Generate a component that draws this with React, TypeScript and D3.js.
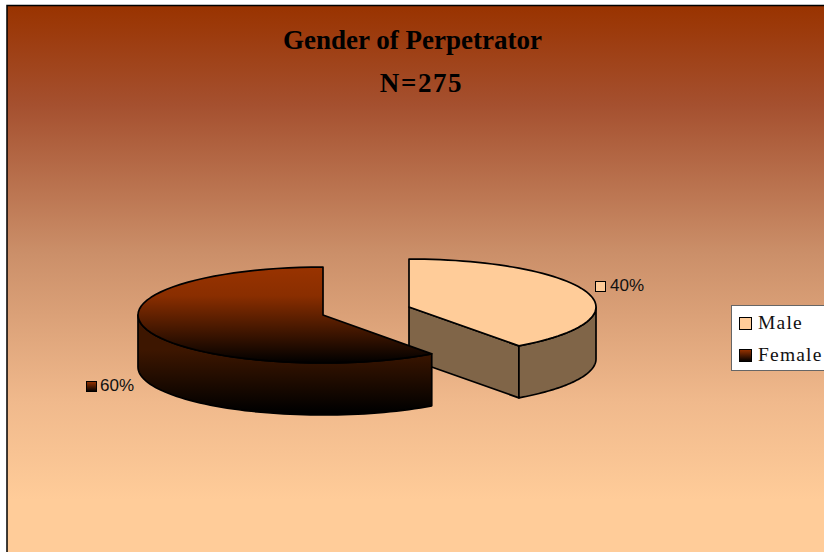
import React from "react";
import * as d3 from "d3";

const categories = ["Male", "Female"];
const values = [40, 60];
const labels = ["40%", "60%"];
const titleLines = ["Gender of Perpetrator", "N=275"];

const W = 824, H = 552;
const pieAngles = d3.pie<number>().sort(null).startAngle(0).endAngle(2 * Math.PI)(values);
const geom = [
  { cx: 409, cy: 307, rx: 187, ry: 48, depth: 52 },
  { cx: 323, cy: 315, rx: 185, ry: 48, depth: 52 },
];

function pt(g: any, a: number, dy = 0): [number, number] {
  return [g.cx + g.rx * Math.sin(a), g.cy - g.ry * Math.cos(a) + dy];
}
const line = d3.line();
function arcPts(g: any, a0: number, a1: number, dy = 0) {
  return d3.range(0, 61).map((i) => pt(g, a0 + ((a1 - a0) * i) / 60, dy));
}
const stroke = "#000";

export default function App() {
  const [mA, fA] = pieAngles;
  const m = geom[0], f = geom[1];
  const mTop = line([[m.cx, m.cy], ...arcPts(m, mA.startAngle, mA.endAngle)])! + "Z";
  const mOuter = line([...arcPts(m, Math.PI / 2, mA.endAngle), ...arcPts(m, mA.endAngle, Math.PI / 2, m.depth).slice()])! + "Z";
  const mEnd = pt(m, mA.endAngle);
  const mCut = line([[m.cx, m.cy], mEnd, [mEnd[0], mEnd[1] + m.depth], [m.cx, m.cy + m.depth]])! + "Z";
  const fTop = line([[f.cx, f.cy], ...arcPts(f, fA.startAngle, fA.endAngle)])! + "Z";
  const fOuter = line([...arcPts(f, fA.startAngle, 1.5 * Math.PI), ...arcPts(f, 1.5 * Math.PI, fA.startAngle, f.depth)])! + "Z";
  return (
    <svg width={W} height={H} viewBox={`0 0 ${W} ${H}`} style={{ position: "absolute", left: 0, top: 0 }}>
      <defs>
        <linearGradient id="bg" gradientUnits="userSpaceOnUse" x1="0" y1="6" x2="0" y2="500">
          <stop offset="0" stopColor="#993300" />
          <stop offset="0.2" stopColor="#a5502f" />
          <stop offset="0.5" stopColor="#cb8f69" />
          <stop offset="0.8" stopColor="#f0b98c" />
          <stop offset="1" stopColor="#FFCC99" />
        </linearGradient>
        <linearGradient id="fTop" gradientUnits="userSpaceOnUse" x1="0" y1="267" x2="0" y2="363">
          <stop offset="0" stopColor="#993300" />
          <stop offset="0.3" stopColor="#8a2e00" />
          <stop offset="1" stopColor="#000" />
        </linearGradient>
        <linearGradient id="fSide" gradientUnits="userSpaceOnUse" x1="0" y1="350" x2="0" y2="412">
          <stop offset="0" stopColor="#3d1600" />
          <stop offset="1" stopColor="#000" />
        </linearGradient>
        <linearGradient id="sw" x1="0" y1="0" x2="0" y2="1">
          <stop offset="0" stopColor="#993300" />
          <stop offset="1" stopColor="#000" />
        </linearGradient>
      </defs>
      <rect width={W} height={H} fill="#fff" />
      <rect x="7" y="5.5" width={W + 20} height={H + 20} fill="url(#bg)" stroke="#000" strokeWidth="1.5" />
      <text x={412.5} y={49} textAnchor="middle" fontFamily="'Liberation Serif'" fontWeight="bold" fontSize={27} fill="#000">{titleLines[0]}</text>
      <text x={421.5} y={92} textAnchor="middle" fontFamily="'Liberation Serif'" fontWeight="bold" fontSize={27} letterSpacing="1.6" fill="#000">{titleLines[1]}</text>
      <g stroke={stroke} strokeWidth="1.7" strokeLinejoin="round">
        <path d={mCut} fill="#806548" />
        <path d={mOuter} fill="#806548" />
        <path d={mTop} fill="#FFCC99" />
        <path d={fOuter} fill="url(#fSide)" />
        <path d={fTop} fill="url(#fTop)" />
      </g>
      <rect x="595.5" y="281.5" width="10" height="10" fill="#FFCC99" stroke="#000" />
      <text x={610} y={291} fontFamily="'Liberation Sans'" fontSize={17} fill="#111">{labels[0]}</text>
      <rect x="86.5" y="381.5" width="10" height="10" fill="url(#sw)" stroke="#000" />
      <text x={100} y={391} fontFamily="'Liberation Sans'" fontSize={17} fill="#111">{labels[1]}</text>
      <rect x="731.5" y="305.5" width="100" height="65" fill="#fff" stroke="#666" />
      {categories.map((c, i) => (
        <g key={c}>
          <rect x="739.5" y={317.5 + i * 32} width="12" height="12" fill={i === 0 ? "#FFCC99" : "url(#sw)"} stroke="#000" />
          <text x={758} y={329 + i * 32} fontFamily="'Liberation Serif'" fontSize={19.5} letterSpacing="1.2" fill="#111">{c}</text>
        </g>
      ))}
    </svg>
  );
}
